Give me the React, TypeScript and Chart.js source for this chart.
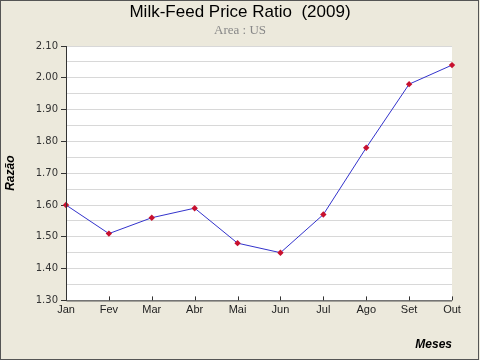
import React, { useEffect, useRef } from "react";
import { Chart, registerables } from "chart.js";

Chart.register(...registerables);

const months = ["Jan", "Fev", "Mar", "Abr", "Mai", "Jun", "Jul", "Ago", "Set", "Out"];
const ratio = [1.6, 1.51, 1.56, 1.59, 1.48, 1.45, 1.57, 1.78, 1.98, 2.04];
const yMin = 1.3;
const yMax = 2.1;
const yStep = 0.05;

const framePlugin = {
  id: "frame",
  beforeDraw(chart: any) {
    const { ctx, chartArea, width, height } = chart;
    ctx.save();
    ctx.fillStyle = "#ECE9DC";
    ctx.fillRect(0, 0, width, height);
    ctx.fillStyle = "#ffffff";
    ctx.fillRect(chartArea.left, chartArea.top, chartArea.right - chartArea.left, chartArea.bottom - chartArea.top);
    ctx.restore();
  },
  afterDraw(chart: any) {
    const { ctx, chartArea, width, height, scales } = chart;
    ctx.save();
    ctx.strokeStyle = "#333";
    ctx.lineWidth = 1;
    ctx.beginPath();
    ctx.moveTo(chartArea.left + 0.5, chartArea.top);
    ctx.lineTo(chartArea.left + 0.5, chartArea.bottom + 0.5);
    ctx.lineTo(chartArea.right, chartArea.bottom + 0.5);
    const xs = scales.x;
    months.forEach((_, i) => {
      const px = Math.round(xs.getPixelForValue(i)) + 0.5;
      ctx.moveTo(px, chartArea.bottom);
      ctx.lineTo(px, chartArea.bottom - 4);
    });
    ctx.stroke();
    ctx.strokeStyle = "#555";
    ctx.strokeRect(0.5, 0.5, width - 2, height - 1);
    ctx.restore();
  },
};

export default function App() {
  const ref = useRef<HTMLCanvasElement>(null);
  useEffect(() => {
    document.body.style.margin = "0";
    const chart = new Chart(ref.current!, {
      type: "line",
      data: {
        labels: months,
        datasets: [
          {
            data: ratio,
            borderColor: "#3333CC",
            borderWidth: 1,
            pointStyle: "rectRot",
            pointRadius: 3.2,
            pointBackgroundColor: "#C8102E",
            pointBorderColor: "#C8102E",
            pointBorderWidth: 0,
            tension: 0,
          },
        ],
      },
      options: {
        animation: false,
        responsive: false,
        layout: { padding: { top: 2, right: 0, bottom: 6, left: 0 } },
        plugins: {
          legend: { display: false },
          tooltip: { enabled: false },
          title: {
            display: true,
            text: "Milk-Feed Price Ratio  (2009)",
            color: "#000",
            font: { family: "Liberation Sans", size: 17, weight: "normal" },
            padding: { top: 0, bottom: 0 },
          },
          subtitle: {
            display: true,
            text: "Area : US",
            color: "#888",
            font: { family: "Liberation Serif", size: 13, weight: "normal" },
            padding: { top: 0, bottom: 8 },
          },
        },
        scales: {
          x: {
            type: "category",
            offset: false,
            grid: { display: false, drawTicks: false },
            border: { display: false },
            ticks: {
              color: "#222",
              font: { family: "Liberation Sans", size: 11 },
              padding: 3,
              maxRotation: 0,
              autoSkip: false,
            },
            title: {
              display: true,
              text: "Meses",
              align: "end",
              color: "#000",
              font: { family: "Liberation Sans", size: 12, weight: "bold", style: "italic" },
              padding: { top: 18, bottom: 2 },
            },
          },
          y: {
            min: yMin,
            max: yMax,
            afterFit(scale: any) {
              scale.width = 66;
            },
            border: { display: false },
            grid: {
              color: "#D8D8D8",
              tickLength: 5,
              tickColor: (c: any) => {
                const v = c.tick ? c.tick.value : 0;
                return Math.abs(Math.round(v * 10) - v * 10) < 1e-6 ? "#333" : "rgba(0,0,0,0)";
              },
            },
            ticks: {
              stepSize: yStep,
              color: "#333",
              font: { family: "DejaVu Sans", size: 10 },
              padding: 3,
              callback: (v: any) => {
                const n = Number(v);
                return Math.abs(Math.round(n * 10) - n * 10) < 1e-6 ? n.toFixed(2) : "";
              },
            },
            title: {
              display: true,
              text: "Razão",
              color: "#000",
              font: { family: "Liberation Sans", size: 12, weight: "bold", style: "italic" },
              padding: { top: 3, bottom: 0 },
            },
          },
          yRight: {
            position: "right",
            min: yMin,
            max: yMax,
            grid: { display: false, drawTicks: false },
            border: { display: false },
            ticks: { display: false },
            afterFit(scale: any) {
              scale.width = 28;
            },
          },
        },
      },
      plugins: [framePlugin],
    } as any);
    return () => chart.destroy();
  }, []);
  return (
    <div style={{ position: "absolute", left: 0, top: 0, width: 480, height: 360 }}>
      <canvas ref={ref} width={480} height={360} />
    </div>
  );
}
